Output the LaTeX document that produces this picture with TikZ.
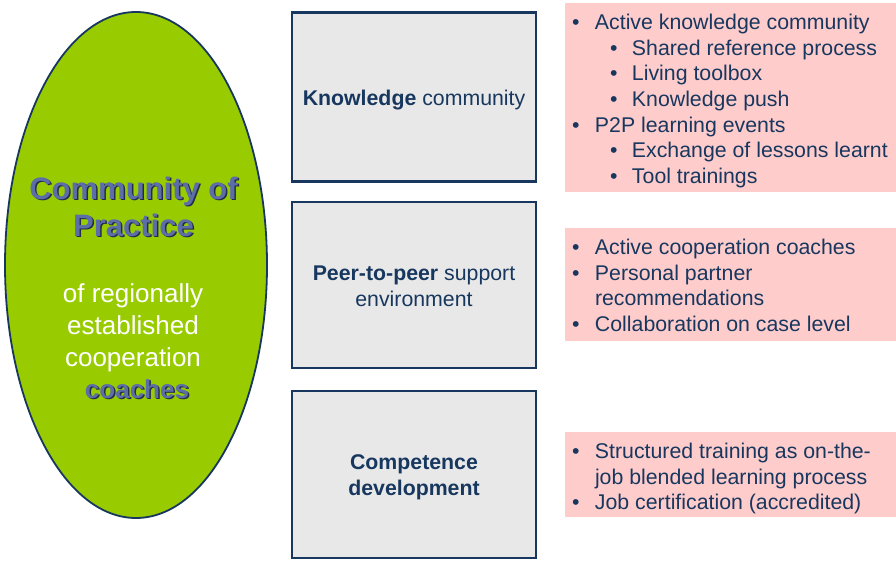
\documentclass[tikz,border=0pt]{standalone}
\usepackage{fontspec}
\setmainfont{Liberation Sans}
\usepackage{xcolor}
\usetikzlibrary{shapes.geometric}

\definecolor{navy}{RGB}{23,55,94}
\definecolor{copgreen}{RGB}{153,204,0}
\definecolor{copblue}{RGB}{91,110,168}
\definecolor{copshadow}{RGB}{38,44,72}
\definecolor{boxgrey}{RGB}{232,232,232}
\definecolor{listpink}{RGB}{255,204,204}

\newcommand{\bul}{\makebox[23pt][l]{\textbullet}}
\newcommand{\subbul}{\hspace*{38pt}\makebox[22pt][l]{\textbullet}}

\begin{document}
\begin{tikzpicture}[x=1pt, y=-1pt,
    areabox/.style={draw=navy, line width=2.6pt, fill=boxgrey, minimum width=244pt, inner sep=0pt},
    arealabel/.style={inner sep=0pt, align=center, text=navy, yshift=-3pt,
        font=\fontsize{21.3}{25.7}\selectfont},
    pinkbox/.style={fill=listpink, minimum width=331pt, inner sep=0pt},
    listtext/.style={anchor=north west, inner sep=0pt, align=left, text=navy,
        font=\fontsize{21.3}{25.7}\selectfont},
    titletext/.style={inner sep=0pt, align=center, font=\fontsize{31}{37}\selectfont\bfseries}]
    \useasboundingbox (0,0) rectangle (896,563);

    % Community of practice
    \node[ellipse, draw=navy, line width=1.8pt, fill=copgreen, minimum width=262pt,
        minimum height=506pt] (cop) at (136,265) {};
    \node[titletext, text=copshadow] (coptitleshadow) at (135,208) {Community of\\Practice};
    \node[titletext, text=copblue] (coptitle) at (133.5,206.5) {Community of\\Practice};
    \node[inner sep=0pt, align=center, text=white, font=\fontsize{26}{32}\selectfont]
        (copsub) at (133,328) {of regionally\\established\\cooperation};
    \node[titletext, font=\fontsize{26}{32}\selectfont\bfseries, text=copshadow]
        (coachesshadow) at (138.5,390.5) {coaches};
    \node[titletext, font=\fontsize{26}{32}\selectfont\bfseries, text=copblue]
        (coaches) at (137,389) {coaches};

    % Areas
    \node[areabox, minimum height=169pt] (knowledge) at (414,97) {};
    \node[areabox, minimum height=166pt] (peer) at (414,285) {};
    \node[areabox, minimum height=167pt] (competence) at (414,474.5) {};
    \node[arealabel] (knowledgelabel) at (knowledge) {\textbf{Knowledge} community};
    \node[arealabel, yshift=2pt] (peerlabel) at (peer) {\textbf{Peer-to-peer} support\\environment};
    \node[arealabel] (competencelabel) at (competence) {\textbf{Competence}\\\textbf{development}};

    % Measures
    \node[pinkbox, minimum height=189pt] (knowpink) at (730.5,97.5) {};
    \node[pinkbox, minimum height=113pt] (peerpink) at (730.5,284.5) {};
    \node[pinkbox, minimum height=85pt] (comppink) at (730.5,474.5) {};

    \node[listtext] (knowlist) at ([shift={(7,8.5)}]knowpink.north west)
        {\strut\bul Active knowledge community\\
         \subbul Shared reference process\\
         \subbul Living toolbox\\
         \subbul Knowledge push\\
         \bul P2P learning events\\
         \subbul Exchange of lessons learnt\\
         \subbul Tool trainings};
    \node[listtext] (peerlist) at ([shift={(7,8.5)}]peerpink.north west)
        {\strut\bul Active cooperation coaches\\
         \bul Personal partner\\
         \hspace*{23pt}recommendations\\
         \bul Collaboration on case level};
    \node[listtext] (complist) at ([shift={(7,8.5)}]comppink.north west)
        {\strut\bul Structured training as on-the-\\
         \hspace*{23pt}job blended learning process\\
         \bul Job certification (accredited)};
\end{tikzpicture}
\end{document}
